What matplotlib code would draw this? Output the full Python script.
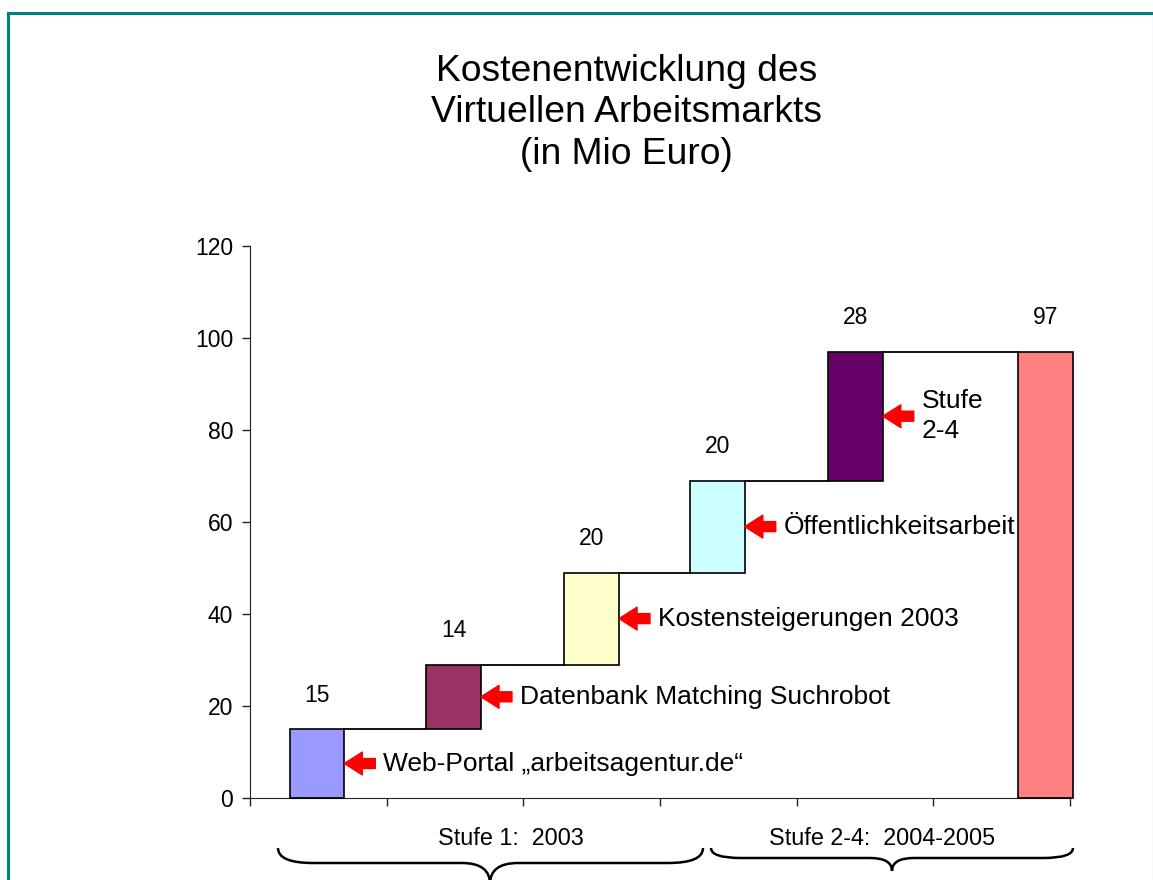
import numpy as np
import matplotlib
matplotlib.use("Agg")
import matplotlib.pyplot as plt
from matplotlib.path import Path
from matplotlib.patches import PathPatch, Rectangle

plt.rcParams['font.family'] = ['Liberation Sans', 'DejaVu Sans']

W, H = 1153, 880

# chart data
title = "Kostenentwicklung des\nVirtuellen Arbeitsmarkts\n(in Mio Euro)"
steps = ["Web-Portal „arbeitsagentur.de“", "Datenbank Matching Suchrobot",
         "Kostensteigerungen 2003", "Öffentlichkeitsarbeit", "Stufe\n2-4"]
increments = [15, 14, 20, 20, 28]
total = 97
bar_colors = ["#9999ff", "#993366", "#ffffcc", "#ccffff", "#660066", "#ff8080"]
x_pos = [0.49, 1.49, 2.5, 3.42, 4.43, 5.82]
phase_labels = ["Stufe 1:  2003", "Stufe 2-4:  2004-2005"]
y_ticks = [0, 20, 40, 60, 80, 100, 120]


def px(x, y):
    # image pixel -> figure fraction
    return x / W, 1 - y / H


def brace(x0, x1, xm, ytop, ymid, ytip, q_end, q_mid):
    verts = [px(x0, ytop), px(x0, ymid), px(x0 + q_end, ymid),
             px(xm - q_mid, ymid), px(xm, ymid), px(xm, ytip),
             px(xm, ymid), px(xm + q_mid, ymid),
             px(x1 - q_end, ymid), px(x1, ymid), px(x1, ytop)]
    codes = [Path.MOVETO, Path.CURVE3, Path.CURVE3, Path.LINETO,
             Path.CURVE3, Path.CURVE3, Path.CURVE3, Path.CURVE3,
             Path.LINETO, Path.CURVE3, Path.CURVE3]
    p = PathPatch(Path(verts, codes), transform=fig.transFigure,
                  fill=False, lw=1.8, edgecolor='black', clip_on=False)
    fig.add_artist(p)


fig = plt.figure(figsize=(W / 100, H / 100), dpi=100)
ax = fig.add_axes([250 / W, 82 / H, 820 / W, 552 / H])

tops = np.cumsum(increments)
heights = list(increments) + [total]
bots = list(tops - np.array(increments)) + [0]
bw = 0.40

bars = ax.bar(x_pos, heights, bottom=bots, width=bw, color=bar_colors,
              edgecolor='black', linewidth=1.2, zorder=3)
for b in bars:
    b.set_clip_on(False)

# connector lines
for i in range(len(increments)):
    ax.plot([x_pos[i] + bw / 2, x_pos[i + 1] - bw / 2], [tops[i], tops[i]],
            color='black', lw=1.3, zorder=2, clip_on=False)

# value labels
for i, v in enumerate(heights):
    ax.annotate(str(v), (x_pos[i], bots[i] + v), xytext=(0, 34),
                textcoords='offset pixels', ha='center', va='center',
                fontsize=16.5)

# red arrows + descriptions
for i, s in enumerate(steps):
    mid = bots[i] + heights[i] / 2
    xr = x_pos[i] + bw / 2
    ax.annotate('', xy=(xr, mid), xytext=(31, 0), textcoords='offset pixels',
                arrowprops=dict(arrowstyle='simple,head_length=1.3,head_width=1.65,tail_width=0.72',
                                mutation_scale=10, color='red', shrinkA=0, shrinkB=0),
                annotation_clip=False)
    ax.annotate(s, (xr, mid), xytext=(39, 0), textcoords='offset pixels',
                ha='left', va='center', fontsize=19, linespacing=1.3,
                annotation_clip=False)

ax.set_xlim(0, 6)
ax.set_ylim(0, 120)
ax.set_xticks(range(7))
ax.set_xticklabels([])
ax.set_yticks(y_ticks)
ax.tick_params(direction='out', length=6, width=1, color='#222222')
ax.tick_params(axis='y', labelsize=16.5, pad=6)
for side in ['top', 'right']:
    ax.spines[side].set_visible(False)
for side in ['left', 'bottom']:
    ax.spines[side].set_color('#222222')

fig.text(*px(626.5, 113), title, ha='center', va='center', fontsize=26.8,
         linespacing=1.25)

fig.text(*px(511, 838), phase_labels[0], ha='center', va='center', fontsize=16.8)
fig.text(*px(882, 838), phase_labels[1], ha='center', va='center', fontsize=16.8)
brace(278, 703, 490, 848, 863, 884, 35, 28)
brace(711, 1073, 892, 848, 858, 871, 30, 22)

frame = Rectangle(px(7.5, 890), (1153.5 - 7.5) / W, (890 - 12.5) / H,
                  transform=fig.transFigure, fill=False, edgecolor='#008080',
                  lw=2.2, clip_on=False)
fig.add_artist(frame)

fig.savefig('out.png', dpi=100)
